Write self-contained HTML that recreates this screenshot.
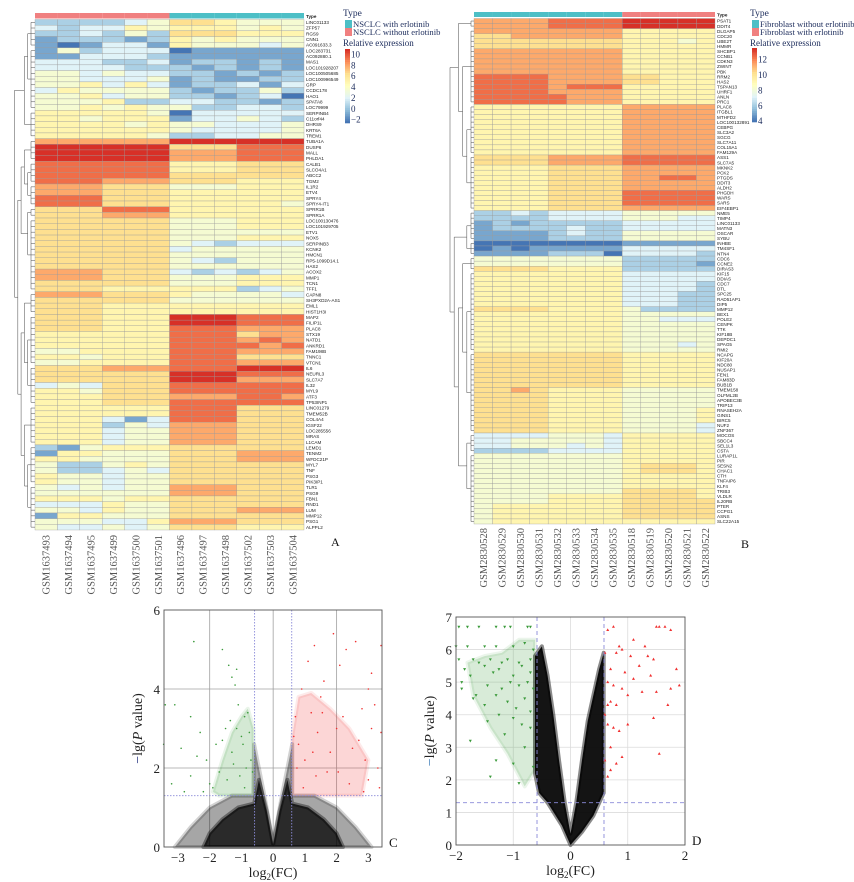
<!DOCTYPE html>
<html><head><meta charset="utf-8"><style>
html,body{margin:0;padding:0;background:#fff;}
svg{display:block;}
.serif{font-family:"Liberation Serif",serif;}
.sans{font-family:"Liberation Sans",sans-serif;}
</style></head><body>
<svg id="fig" width="854" height="882" viewBox="0 0 854 882" xmlns="http://www.w3.org/2000/svg">
<g id="panelA"></g>
<g id="panelB"></g>
<g id="panelC"></g>
<g id="panelD"></g>
</svg>
<script>
// ---------- Heatmap A data ----------
const samplesA = ["GSM1637493","GSM1637494","GSM1637495","GSM1637499","GSM1637500","GSM1637501","GSM1637496","GSM1637497","GSM1637498","GSM1637502","GSM1637503","GSM1637504"];
const typesA = [1,1,1,1,1,1,0,0,0,0,0,0];
const genesA = ["LINC01133","ZFP57","RGS9","CNN1","AC091633.3","LOC283731","AC092880.1","MAS1","LOC101928207","LOC100505685","LOC100996549","GRP","CCDC178","HAO1","SPATA8","LOC79999","SERPINB4","C11orf44","DHRS9","KRT6A","TREM1","TUBA1A","DUSP6","MALL","PHLDA1","CALB1","SLCO4A1","ABCC2","TGM2","IL1R2","ETV4","SPRY4","SPRY4-IT1","SPRR1B","SPRR1A","LOC100130476","LOC101929705","ETV1","NOX5","SERPINB3","KCNK2","HMCN1","RP5-1099D14.1","HAS2","ACOX2","MMP1","TCN1","TFF1","CAPN8","SH3PXD2A-AS1","EML1","HIST1H3I","MAP2","FILIP1L","PLAC8","STX19","NATD1","ANKRD1","FAM198B","TNNC1","VTCN1","IL6","NEURL3","SLC7A7","IL32","MYL9","ATF3","TP53INP1","LINC01279","TMEM52B","COL4A4","IGSF22","LOC285556","MRAS","L1CAM","LEMD1","TENM2","WFDC21P","MYL7","TNF","PSG3","PIK3IP1","TLR1","PSG9","FBN1","RND1","LUM","MMP12","PSG1","ALPPL2"];
// expression level codes 0..9 (value = -2 + level*12/9)
const levelsA = ["222234665444","323354555454","223242666555","122212545444","101331544434","142333011111","113332111111","333223122121","333322212121","443433221212","443334121122","445353122313","354444212242","445344221230","444522332212","445454422332","555554033333","554555133432","555545443334","555555433334","555554223344","777777999999","999999666888","999999777888","999999777888","888888555666","888888555666","888888666666","888777666555","777666444555","777666555555","888666555555","888666555554","666888555555","666777555555","666666444555","666666444555","666666444444","666666444555","666666432333","666666344444","666666444444","666666432444","666666444444","777666323234","777666444555","666666444555","666555555234","777666544443","666666444444","666555555555","666555555555","666555999888","666555999888","666555888777","555555888677","555555888787","555555888878","445555888777","554555888666","445555888777","666777888999","666666999888","666666999777","343666888888","554666888888","555666777887","555666888888","555555888666","555555888666","555313888666","555243777666","555344777666","555344777666","555344777666","214555666666","155444666777","554444666777","422454666666","422343666666","544344666666","544344666666","434344777666","444444777666","555455666666","333544666666","443544666777","155444666666","444335777666","433434666555"];
const ticksA = [10,8,6,4,2,0,-2];
// ---------- Heatmap B data ----------
const samplesB = ["GSM2830528","GSM2830529","GSM2830530","GSM2830531","GSM2830532","GSM2830533","GSM2830534","GSM2830535","GSM2830518","GSM2830519","GSM2830520","GSM2830521","GSM2830522"];
const typesB = [0,0,0,0,0,0,0,0,1,1,1,1,1];
const genesB = ["PSAT1","DDIT4","DLGAP5","CDC20","UBE2T","HMMR","SHCBP1","CCNB1","CDKN3","ZWINT","PBK","RRM2","HAS2","TSPAN13","UHRF1","ANLN","PRC1","PLAC8","ITGBL1","MTHFD2","LOC100132891","CEBPG","SLC3A2","SGCG","SLC7A11","COL15A1","FAM129A","ASS1","SLC7A5","MKNK2","PCK2","PTGDS","DDIT3","ALDH2","PHGDH","WARS","SARS","EIF4EBP1","NME5","TIMP4","LINC01133","MATN3","OSCAR","SYBU","INHBE","TM4SF1","NTN4","CDC6","CCNE2","DIRAS3","KIF15","DDIAS","CDC7","DTL","SPC25","RAD51AP1","DIP5","MMP12","BEX1","POLE2","CENPK","TTK","KIF18B","DEPDC1","SPAG5","RMI2","NCAPG","KIF20A","NDC80","NUSAP1","FEN1","FAM83D","BUB1B","TMEM158","OLFML2B","APOBEC3B","TRIP13","RNASEH2A","GINS1","BIRC5","NUF2","ZNF367","MOCOS","SBCC4","SEL1L3","CSTA","LURAP1L","PIR","SESN2","CHAC1","CTH","TNFAIP6","KLF4","TRIB3","VLDLR","IL20RB","PTER","CCPG1","ASNS","SLC22A15"];
// level codes 0..9 (value = 4 + level)
const levelsB = ["7777888899999","7777888899999","7777777755555","6677777755555","6666666655545","6666666655555","7777777755555","7777777755555","7777777755555","7777777755555","7777777755555","8888777766555","8888777766555","8888788855555","8888777755555","8888877755555","8888877755555","5555555577777","5555555577777","5555555577777","5555555577777","5555555577777","5555555577777","5555555577777","5555555577777","5555555577777","5555555577777","6666777788888","6666777788888","5555666677777","5555666677777","5555666677887","5555666677777","5555666677777","5555666688888","5555666688888","5555666688888","5555666677777","2232333344444","2222333344433","1212222233333","1222232233333","1111232244444","1111222244444","0000000011111","0101111133333","1111222033332","4444444422222","4444444422221","6666555522222","5555555533333","5555555533333","5555555533332","5555555533332","5555555533322","5555555533322","5555555533322","6666555542222","5555555544444","5555555544333","5555555544444","5555555544444","5555555544444","5555555544444","5555555544434","5555555544444","6666666655555","6666666655555","6666666655555","6666666655555","6666666655555","6666666655555","6666666655555","6676555544444","6666555544444","6666555544444","6666555544444","6666555544445","6666555544445","6666555544445","6666555544443","6666555544443","3333444355555","3344444355555","3344434355555","2222333355555","4444444455555","4444444455555","4444444456665","4444444456665","4444444455555","4444444455555","4444444455555","4444444466665","4444555566665","4444555566666","4555555566666","4555555566666","4555555566666","4555555555555"];
const ticksB = [12,10,8,6,4];
// ---------- Volcano C data ----------
const cTicksX = [-3,-2,-1,0,1,2,3];
const cTicksY = [0,2,4,6];
const cDownX = [-2.5,-1.6,-1.4,-1.3,-1.2,-1.15,-3.4,-3.1,-2.6,-3.45,-2.9,-2.3,-2.1,-2.6,-3.2,-1.8,-1.5,-1.1,-0.9,-1.0,-2.0,-1.7,-2.4,-1.3,-0.8,-0.95,-1.25,-1.9,-2.2,-1.45,-0.75,-1.05,-0.7,-0.85,-1.6,-1.35,-2.8,-1.15,-0.65,-0.9];
const cDownY = [5.2,5.0,4.6,4.3,4.1,4.5,3.6,3.6,3.3,2.6,2.5,2.9,2.2,1.8,1.6,2.6,3.0,3.6,3.3,2.8,1.6,1.9,2.3,2.4,3.4,2.6,2.1,1.5,1.4,1.7,2.9,1.8,2.2,2.0,2.7,3.2,1.4,3.0,1.9,1.5];
const cUpX = [1.9,2.6,2.3,1.3,1.1,3.4,3.1,2.1,0.9,1.6,3.0,3.2,2.8,3.4,3.3,2.5,1.5,0.7,1.2,2.0,2.7,1.8,1.4,0.8,2.2,3.0,0.65,1.0,2.9,1.7,2.4,3.35,0.75,1.35,2.05,1.55,2.85,0.95,1.25,3.1];
const cUpY = [5.4,5.2,5.0,5.1,4.7,5.1,4.4,4.6,4.0,4.2,4.0,3.6,3.5,2.9,2.0,2.5,3.8,3.3,3.4,3.0,2.7,2.4,2.9,2.6,3.3,1.7,2.8,2.2,2.2,1.9,1.6,1.5,2.0,1.8,1.9,3.4,1.4,1.5,2.4,3.0];
// envelopes of dense point clouds
const cHaloEnvX = [0,-0.3,-0.6,-0.62,-1.3,-2.0,-2.6,-3.1,3.1,2.6,2.0,1.3,0.6,0.6,0.3,0];
const cHaloEnvY = [0.1,1.4,2.6,1.3,1.3,1.0,0.5,0,0,0.5,1.0,1.3,1.3,2.6,1.4,0.1];
const cBlackEnvX = [0,-0.2,-0.45,-0.6,-1.1,-1.6,-2.0,-2.2,2.2,2.0,1.6,1.1,0.6,0.45,0.2,0];
const cBlackEnvY = [0.05,0.9,1.7,1.1,1.0,0.7,0.35,0,0,0.35,0.7,1.0,1.1,1.7,0.9,0.05];
const cGreenEnvX = [-0.62,-0.62,-0.8,-1.0,-1.3,-1.6,-1.9,-1.7,-1.2];
const cGreenEnvY = [1.3,3.0,3.5,3.3,2.9,2.2,1.4,1.3,1.3];
const cRedEnvX = [0.6,0.6,0.8,1.2,1.8,2.4,3.0,2.8,2.0,1.2];
const cRedEnvY = [1.3,2.8,3.8,3.9,3.5,3.0,2.2,1.3,1.3,1.3];
// ---------- Volcano D data ----------
const dTicksX = [-2,-1,0,1,2];
const dTicksY = [0,1,2,3,4,5,6,7];
const dDownX = [-1.95,-1.8,-1.6,-1.3,-1.15,-1.05,-0.75,-0.7,-2.0,-1.8,-1.5,-1.3,-1.0,-0.8,-0.65,-1.95,-1.9,-1.7,-1.6,-1.4,-1.2,-1.1,-0.9,-0.7,-1.85,-1.75,-1.5,-1.35,-1.25,-1.0,-0.85,-0.7,-1.9,-1.65,-1.45,-1.2,-1.05,-0.9,-0.75,-0.65,-1.7,-1.5,-1.3,-1.1,-0.95,-0.8,-0.7,-1.45,-1.25,-1.0,-0.85,-0.7,-1.75,-1.3,-1.4,-1.0,-0.8,-0.65,-1.15,-0.9];
const dDownY = [6.7,6.7,6.7,6.7,6.7,6.7,6.7,6.7,6.1,6.1,6.1,6.1,6.1,6.2,6.0,5.7,4.8,5.7,5.6,5.7,5.6,5.7,5.6,5.7,5.4,5.2,5.5,5.3,5.4,5.2,5.5,5.3,5.0,4.6,4.9,4.8,5.0,4.9,5.0,4.8,4.5,4.3,4.6,4.4,4.2,4.5,4.1,3.8,4.0,3.9,3.7,3.6,3.2,2.6,2.1,2.5,3.0,2.4,3.4,1.9];
const dUpX = [0.65,0.75,0.85,1.1,1.3,1.5,1.55,1.65,1.75,0.8,0.9,1.05,1.2,1.35,1.45,0.7,0.6,0.95,1.25,1.4,1.85,1.9,0.65,0.75,0.9,1.1,1.5,1.75,1.0,0.7,0.8,0.6,0.65,1.45,1.7,0.75,0.85,0.65,1.0,1.55,0.7,0.6,0.8,0.9,0.65,0.7];
const dUpY = [6.6,6.7,6.1,6.3,6.1,6.7,6.7,6.7,6.6,5.9,6.0,5.8,5.5,5.8,5.7,5.4,5.9,5.3,4.7,5.2,5.4,4.9,5.0,4.9,4.8,5.1,4.7,4.8,4.6,4.4,4.3,4.0,4.3,3.9,4.3,3.6,3.5,3.7,3.7,2.8,3.0,2.6,2.5,2.7,2.1,2.3];
const dBlackEnvX = [0,-0.15,-0.4,-0.55,-0.62,-0.62,-0.5,-0.4,-0.3,-0.2,-0.1,0,0.1,0.2,0.3,0.4,0.5,0.58,0.58,0.4,0.2];
const dBlackEnvY = [0,0.6,1.3,1.6,2.2,5.8,6.1,5.2,4.0,2.6,1.3,0.35,1.3,2.6,3.8,4.6,5.4,5.9,1.6,0.9,0.4];
const dGreenEnvX = [-0.62,-0.62,-0.9,-1.2,-1.5,-1.8,-1.7,-1.4,-1.1,-0.8];
const dGreenEnvY = [2.3,6.3,6.3,5.9,5.8,5.6,4.6,3.6,2.8,1.8];

// ---------- helpers ----------
const NS = "http://www.w3.org/2000/svg";
function mk(tag, attrs, parent){ const e=document.createElementNS(NS,tag); for(const k in attrs) e.setAttribute(k,attrs[k]); if(parent) parent.appendChild(e); return e; }
function lerpHex(a,b,t){ const pa=[1,3,5].map(i=>parseInt(a.substr(i,2),16)), pb=[1,3,5].map(i=>parseInt(b.substr(i,2),16)); return "rgb("+pa.map((v,i)=>Math.round(v+(pb[i]-v)*t)).join(",")+")"; }
const pal = ["#4575b4","#91bfdb","#e0f3f8","#ffffbf","#fee090","#fc8d59","#d73027"];
function palColor(t){ t=Math.max(0,Math.min(1,t)); const s=t*(pal.length-1); const i=Math.min(pal.length-2,Math.floor(s)); return lerpHex(pal[i],pal[i+1],s-i); }

function heatmap(g, cfg){
  const {x0,x1,yBar,barH,y0,y1,genes,levels,samples,types,toT,labelX,sampleY,typeCols} = cfg;
  const nc=samples.length, nr=genes.length, cw=(x1-x0)/nc, rh=(y1-y0)/nr;
  for(let c=0;c<nc;c++){
    const r=mk("rect",{x:x0+c*cw,y:yBar,width:cw,height:barH,fill:typeCols[types[c]]},g);
    
    
  }
  mk("text",{x:labelX,y:yBar+barH-0.5,"font-size":4.6,"font-weight":"bold",class:"sans",fill:"#222"},g).textContent="Type";
  for(let r=0;r<nr;r++){
    for(let c=0;c<nc;c++){
      const lv=parseInt(levels[r][c]);
      const cell=mk("rect",{x:x0+c*cw,y:y0+r*rh,width:cw,height:rh,fill:palColor(toT(lv)),stroke:"#9a9a9a","stroke-width":0.35},g);
      
      
    }
    const t=mk("text",{x:labelX,y:y0+(r+0.5)*rh+1.7,"font-size":4.6,class:"sans",fill:"#222"},g);
    t.textContent=genes[r];
    
    
  }
  for(let c=0;c<nc;c++){
    const cx=x0+(c+0.5)*cw+3.5;
    const t=mk("text",{x:0,y:0,"font-size":10.5,class:"serif",fill:"#555","text-anchor":"end",transform:`translate(${cx},${sampleY}) rotate(-90)`},g);
    t.textContent=samples[c];
    
    
  }
  return {rh};
}
function dendro(g, tree, groups, x0, y0, rh, step, smallH){
  function build(node){
    if(typeof node==="number"){
      const [a,b]=groups[node];
      const xl=x0-smallH;
      for(let r=a;r<=b;r++) mk("line",{x1:x0,y1:y0+(r+0.5)*rh,x2:xl,y2:y0+(r+0.5)*rh,stroke:"#666","stroke-width":0.6},g);
      mk("line",{x1:xl,y1:y0+(a+0.5)*rh,x2:xl,y2:y0+(b+0.5)*rh,stroke:"#666","stroke-width":0.6},g);
      return {x:xl,y:y0+((a+b)/2+0.5)*rh,d:0};
    }
    const L=build(node[0]), R=build(node[1]);
    const d=Math.max(L.d,R.d)+1, x=x0-smallH-d*step;
    mk("line",{x1:L.x,y1:L.y,x2:x,y2:L.y,stroke:"#666","stroke-width":0.6},g);
    mk("line",{x1:R.x,y1:R.y,x2:x,y2:R.y,stroke:"#666","stroke-width":0.6},g);
    mk("line",{x1:x,y1:L.y,x2:x,y2:R.y,stroke:"#666","stroke-width":0.6},g);
    return {x,y:(L.y+R.y)/2,d};
  }
  build(tree);
}
function legend(g, cfg){
  const {x,names,cols,ticks,vmin,vmax,cbTop,cbBot} = cfg;
  mk("text",{x:x-2,y:16,"font-size":9.5,class:"serif",fill:"#1a2a5a"},g).textContent="Type";
  names.forEach((n,i)=>{
    const sw=mk("rect",{x:x,y:20+i*8,width:7,height:8,fill:cols[i]},g);
    
    
    const t=mk("text",{x:x+8,y:27+i*8,"font-size":8.6,class:"serif",fill:"#1a2a5a"},g);
    t.textContent=n;
    
    
  });
  mk("text",{x:x-2,y:46,"font-size":9,class:"serif",fill:"#1a2a5a"},g).textContent="Relative expression";
  const n=40;
  for(let i=0;i<n;i++){
    mk("rect",{x:x,y:cbTop+(cbBot-cbTop)*i/n,width:5,height:(cbBot-cbTop)/n+0.3,fill:palColor(1-i/(n-1))},g);
  }
  ticks.forEach(v=>{
    const y=cbTop+(cbBot-cbTop)*(vmax-v)/(vmax-vmin);
    const t=mk("text",{x:x+6,y:y+3,"font-size":9,class:"serif",fill:"#1a2a5a"},g);
    t.textContent=(v<0?"\u2212":"")+Math.abs(v);
    
    
  });
}

// ---------- Panel A ----------
(function(){
  const g=document.getElementById("panelA");
  const teal="#4dbfc6", salmon="#f08080";
  const info=heatmap(g,{x0:35,x1:304,yBar:13,barH:5.5,y0:19.5,y1:530,genes:genesA,levels:levelsA,samples:samplesA,types:typesA,toT:lv=>((-2+lv*12/9)+2)/12,labelX:306,sampleY:535,typeCols:[teal,salmon]});
  const groupsA=[[0,4],[5,15],[16,20],[21,24],[25,28],[29,32],[33,34],[35,47],[48,51],[52,60],[61,67],[68,74],[75,81],[82,89]];
  dendro(g,[[[0,1],2],[[[3,[4,5]],[6,7]],[[8,[9,10]],[11,[12,13]]]]],groupsA,35,19.5,info.rh,3.3,4);
  legend(g,{x:345,names:["NSCLC with erlotinib","NSCLC without erlotinib"],cols:[teal,salmon],ticks:ticksA,vmin:-2.6,vmax:11,cbTop:49,cbBot:123});
  mk("text",{x:331,y:546,"font-size":12,class:"serif",fill:"#111"},g).textContent="A";
})();
// ---------- Panel B ----------
(function(){
  const g=document.getElementById("panelB");
  const teal="#4dbfc6", salmon="#f08080";
  const info=heatmap(g,{x0:474,x1:715,yBar:12,barH:5,y0:18.5,y1:524,genes:genesB,levels:levelsB,samples:samplesB,types:typesB,toT:lv=>lv/9,labelX:717,sampleY:528,typeCols:[teal,salmon]});
  const groupsB=[[0,1],[2,16],[17,26],[27,37],[38,43],[44,46],[47,49],[50,65],[66,81],[82,85],[86,99]];
  dendro(g,[[0,[1,[2,3]]],[[4,5],[[6,[7,8]],[9,10]]]],groupsB,474,18.5,info.rh,4.2,3);
  legend(g,{x:752,names:["Fibroblast without erlotinib","Fibroblast with erlotinib"],cols:[teal,salmon],ticks:ticksB,vmin:3.9,vmax:13.5,cbTop:48,cbBot:122});
  mk("text",{x:741,y:548,"font-size":12,class:"serif",fill:"#111"},g).textContent="B";
})();

// ---------- Volcano helper ----------
function volcano(g,cfg){
  const {L,R,T,B,xmin,xmax,ymax,xt,yt,grid,dark} = cfg;
  const sx=v=>L+(v-xmin)/(xmax-xmin)*(R-L), sy=v=>B-v/ymax*(B-T);
  mk("rect",{x:L,y:T,width:R-L,height:B-T,fill:"#fff"},g);
  grid.x.forEach(v=>mk("line",{x1:sx(v),y1:T,x2:sx(v),y2:B,stroke:grid.col,"stroke-width":0.8},g));
  grid.y.forEach(v=>mk("line",{x1:L,y1:sy(v),x2:R,y2:sy(v),stroke:grid.col,"stroke-width":0.8},g));
  cfg.polys.forEach(p=>{
    const pts=p.xs.map((x,i)=>sx(x)+","+sy(p.ys[i])).join(" ");
    const e=mk("polygon",{points:pts,fill:p.fill,"fill-opacity":p.op,stroke:p.fill,"stroke-opacity":p.op*0.5,"stroke-width":4,"stroke-linejoin":"round"},g);
    
    
  });
  cfg.series.forEach(s=>{
    s.xs.forEach((x,i)=>{
      const cx=sx(x), cy=sy(s.ys[i]);
      let e;
      if(s.shape==="up") e=mk("polygon",{points:`${cx},${cy-1.7} ${cx-1.5},${cy+1} ${cx+1.5},${cy+1}`,fill:s.col},g);
      else if(s.shape==="down") e=mk("polygon",{points:`${cx},${cy+1.7} ${cx-1.5},${cy-1} ${cx+1.5},${cy-1}`,fill:s.col},g);
      else e=mk("circle",{cx,cy,r:0.8,fill:s.col},g);
      
      
    });
  });
  const th=cfg.thr;
  [-th.x,th.x].forEach(v=>mk("line",{x1:sx(v),y1:T,x2:sx(v),y2:B,stroke:"#8a8ad8","stroke-width":0.9,"stroke-dasharray":th.dash},g));
  mk("line",{x1:L,y1:sy(th.y),x2:R,y2:sy(th.y),stroke:"#8a8ad8","stroke-width":0.9,"stroke-dasharray":th.dash},g);
  mk("rect",{x:L,y:T,width:R-L,height:B-T,fill:"none",stroke:"#555","stroke-width":0.9},g);
  xt.forEach(v=>{
    const t=mk("text",{x:sx(v),y:B+15,"font-size":13,class:"serif",fill:"#222","text-anchor":"middle"},g);
    t.textContent=(v<0?"\u2212":"")+Math.abs(v);
    
    
  });
  yt.forEach(v=>{
    const t=mk("text",{x:L-4,y:sy(v)+5,"font-size":13,class:"serif",fill:"#222","text-anchor":"end"},g);
    t.textContent=v;
    
    
  });
  const xtit=mk("text",{x:(L+R)/2,y:B+30,"font-size":14,class:"serif",fill:"#222","text-anchor":"middle"},g);
  xtit.innerHTML='log<tspan font-size="9" dy="3">2</tspan><tspan dy="-3">(FC)</tspan>';
  
  
  const ytit=mk("text",{x:0,y:0,"font-size":14,class:"serif",fill:"#222","text-anchor":"middle",transform:`translate(${L-22},${(T+B)/2}) rotate(-90)`},g);
  ytit.innerHTML=`<tspan fill="${dark}">\u2212</tspan>lg(<tspan font-style="italic">P</tspan> value)`;
  
  
  mk("text",{x:R+7,y:B,"font-size":13,class:"serif",fill:"#111"},g).textContent=cfg.letter;
}
volcano(document.getElementById("panelC"),{L:164,R:382,T:610,B:847,xmin:-3.44,xmax:3.43,ymax:6,xt:cTicksX,yt:cTicksY,dark:"#1a2a7a",letter:"C",
  grid:{x:[-2,0,2],y:[2,4],col:"#a0a0a0"},thr:{x:0.585,y:1.3,dash:"1.5,1.5"},
  polys:[{xs:cGreenEnvX,ys:cGreenEnvY,fill:"#3a9a3a",op:0.22,name:"down-cloud"},{xs:cRedEnvX,ys:cRedEnvY,fill:"#f03030",op:0.2,name:"up-cloud"},{xs:cHaloEnvX,ys:cHaloEnvY,fill:"#000",op:0.35,name:"nonsignificant-halo"},{xs:cBlackEnvX,ys:cBlackEnvY,fill:"#000",op:0.75,name:"nonsignificant-cloud"}],
  series:[{xs:cDownX,ys:cDownY,col:"#3a9a3a",shape:"dot",name:"down-point"},{xs:cUpX,ys:cUpY,col:"#f03030",shape:"dot",name:"up-point"}]});
volcano(document.getElementById("panelD"),{L:456,R:685,T:617,B:845,xmin:-2,xmax:2,ymax:7,xt:dTicksX,yt:dTicksY,dark:"#3a7ab8",letter:"D",
  grid:{x:[-1,0,1],y:[1,2,3,4,5,6],col:"#dcdcdc"},thr:{x:0.585,y:1.3,dash:"4,3"},
  polys:[{xs:dGreenEnvX,ys:dGreenEnvY,fill:"#3a9a3a",op:0.2,name:"down-cloud"},{xs:dBlackEnvX,ys:dBlackEnvY,fill:"#000",op:0.92,name:"nonsignificant-cloud"}],
  series:[{xs:dDownX,ys:dDownY,col:"#3a9a3a",shape:"down",name:"down-point"},{xs:dUpX,ys:dUpY,col:"#f03030",shape:"up",name:"up-point"}]});
</script>
</body></html>
